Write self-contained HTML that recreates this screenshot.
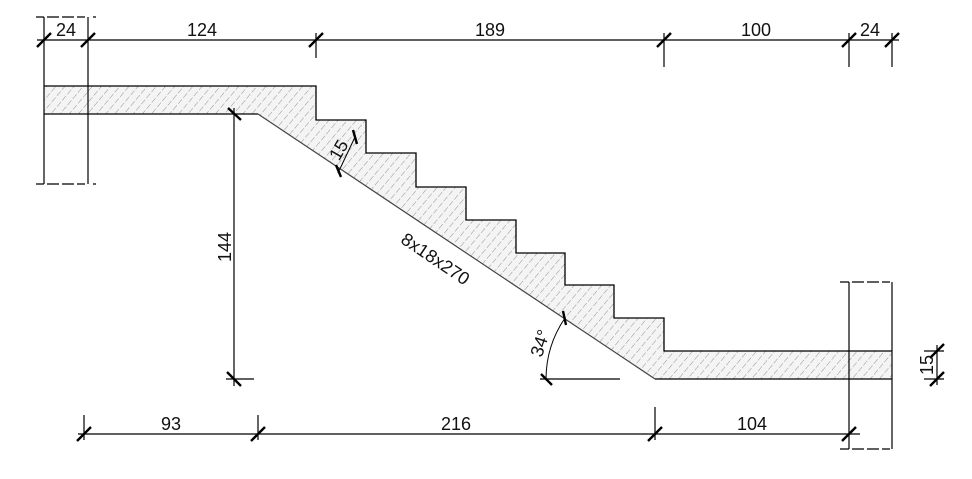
<!DOCTYPE html>
<html><head><meta charset="utf-8"><style>
html,body{margin:0;padding:0;background:#fff;}
svg{display:block;}
text{font-family:"Liberation Sans",Arial,sans-serif;font-size:18px;fill:#111;}
</style></head><body>
<svg width="972" height="479" viewBox="0 0 972 479" xmlns="http://www.w3.org/2000/svg">
<defs>
<pattern id="h" patternUnits="userSpaceOnUse" width="7" height="8" patternTransform="rotate(40)">
<rect width="7" height="8" fill="#f4f4f4"/>
<line x1="0" y1="0" x2="0" y2="8" stroke="#888" stroke-width="0.9" stroke-dasharray="5 2"/>
</pattern>
</defs>
<path d="M44,86 L316,86 L316,120 L366,120 L366,153 L416,153 L416,187 L466,187 L466,220 L516,220 L516,253 L565,253 L565,285 L614,285 L614,318 L664,318 L664,351 L892,351 L892,379 L655,379 L258,114 L44,114 Z" fill="url(#h)" stroke="none"/>
<path d="M44,86 L316,86 L316,120 L366,120 L366,153 L416,153 L416,187 L466,187 L466,220 L516,220 L516,253 L565,253 L565,285 L614,285 L614,318 L664,318 L664,351 L892,351" fill="none" stroke="#000" stroke-width="1.3"/>
<path d="M44,114 L258,114" stroke="#000" stroke-width="1.3"/>
<path d="M258,114 L655,379" stroke="#444" stroke-width="1.2"/>
<path d="M655,379 L892,379" stroke="#000" stroke-width="1.3"/>
<g stroke="#000" stroke-width="1.2" fill="none">
<line x1="44" y1="17" x2="44" y2="184"/>
<line x1="88" y1="17" x2="88" y2="184"/>
<line x1="36" y1="17" x2="96" y2="17" stroke-dasharray="8 3 12 3 12 3 8"/>
<line x1="36" y1="184" x2="96" y2="184" stroke-dasharray="8 3 12 3 12 3 8"/>
<line x1="849" y1="282" x2="849" y2="449"/>
<line x1="892" y1="282" x2="892" y2="449"/>
<line x1="840" y1="282" x2="899" y2="282" stroke-dasharray="9 3 12 3 12 3 8"/>
<line x1="840" y1="449" x2="899" y2="449" stroke-dasharray="9 3 12 3 12 3 8"/>
<line x1="37" y1="40" x2="899" y2="40"/>
<line x1="316" y1="33" x2="316" y2="58"/>
<line x1="664" y1="33" x2="664" y2="67"/>
<line x1="849" y1="33" x2="849" y2="67"/>
<line x1="892" y1="33" x2="892" y2="67"/>
<line x1="78" y1="434" x2="860" y2="434"/>
<line x1="84" y1="415" x2="84" y2="440"/>
<line x1="258" y1="415" x2="258" y2="440"/>
<line x1="655" y1="407" x2="655" y2="440"/>
<line x1="234" y1="108" x2="234" y2="386"/>
<line x1="226" y1="379" x2="254" y2="379"/>
<line x1="540" y1="379" x2="620" y2="379"/>
<path d="M546,379 A109,109 0 0 1 565,318" stroke-width="1"/>
<line x1="338" y1="173" x2="355" y2="137" stroke-width="1"/>
<line x1="937" y1="345" x2="937" y2="385"/>
<line x1="924" y1="351" x2="944" y2="351"/>
<line x1="924" y1="379" x2="944" y2="379"/>
</g>
<g stroke="#000" stroke-width="2.4">
<line x1="37" y1="47" x2="51" y2="33"/>
<line x1="81" y1="47" x2="95" y2="33"/>
<line x1="309" y1="47" x2="323" y2="33"/>
<line x1="657" y1="47" x2="671" y2="33"/>
<line x1="842" y1="47" x2="856" y2="33"/>
<line x1="885" y1="47" x2="899" y2="33"/>
<line x1="77" y1="441" x2="91" y2="427"/>
<line x1="251" y1="441" x2="265" y2="427"/>
<line x1="648" y1="441" x2="662" y2="427"/>
<line x1="842" y1="441" x2="856" y2="427"/>
<line x1="228" y1="108" x2="241" y2="120"/>
<line x1="227" y1="372" x2="241" y2="386"/>
<line x1="541" y1="374" x2="552" y2="385"/>
<line x1="563" y1="311" x2="566" y2="325"/>
<line x1="336" y1="165" x2="341" y2="177"/>
<line x1="353" y1="130" x2="357" y2="144"/>
<line x1="930" y1="358" x2="944" y2="344"/>
<line x1="930" y1="386" x2="944" y2="372"/>
</g>
<text x="66" y="36" text-anchor="middle">24</text>
<text x="202" y="36" text-anchor="middle">124</text>
<text x="490" y="36" text-anchor="middle">189</text>
<text x="756" y="36" text-anchor="middle">100</text>
<text x="870" y="36" text-anchor="middle">24</text>
<text x="171" y="430" text-anchor="middle">93</text>
<text x="456" y="430" text-anchor="middle">216</text>
<text x="752" y="430" text-anchor="middle">104</text>
<text transform="translate(231,247) rotate(-90)" text-anchor="middle">144</text>
<text transform="translate(933,365) rotate(-90)" text-anchor="middle">15</text>
<text transform="translate(546,345) rotate(-72)" text-anchor="middle">34°</text>
<text transform="translate(344,153) rotate(-60)" text-anchor="middle">15</text>
<text transform="translate(432,264) rotate(34)" text-anchor="middle">8x18x270</text>
</svg>
</body></html>
